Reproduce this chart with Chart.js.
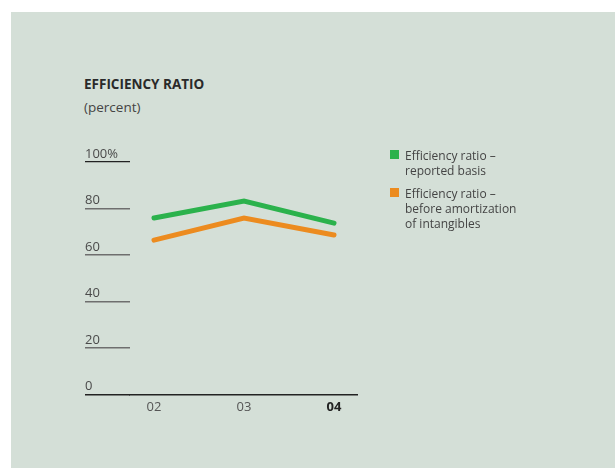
<!DOCTYPE html>
<html lang="en">
<head>
  <meta charset="UTF-8" />
  <title>Efficiency Ratio</title>
  <script src="https://cdn.jsdelivr.net/npm/chart.js"></script>
  <style>
    html, body { margin: 0; width: 615px; height: 468px; background: #fff; font-family: "Open Sans", sans-serif; overflow: hidden; }
    #panel { position: absolute; left: 11px; top: 12px; right: 0; bottom: 0; background: #d4dfd7; }
    #chart { position: absolute; left: 0; top: 0; }
    .title { position: absolute; left: 84px; top: 78px; font-size: 13.5px; line-height: 13.5px; font-weight: bold; color: #2a2a2a; }
    .sub { position: absolute; left: 84px; top: 101px; font-size: 13.5px; line-height: 13.5px; color: #444; }
    #legend { position: absolute; left: 390px; top: 148px; font-size: 12px; line-height: 15px; color: #444; }
    .item { position: relative; padding-left: 15px; margin-bottom: 8px; }
    .box { position: absolute; left: 0; top: 2px; width: 9px; height: 9px; }
  </style>
</head>
<body>
<div id="panel"></div>
<div class="title">EFFICIENCY RATIO</div>
<div class="sub">(percent)</div>
<canvas id="chart" width="615" height="468"></canvas>
<div id="legend"></div>

<script>
// values
const years = ['02', '03', '04'];
const reported = [75.9, 83.2, 73.7];
const beforeAmort = [66.4, 75.9, 68.6];
const seriesNames = [
  ['Efficiency ratio –', 'reported basis'],
  ['Efficiency ratio –', 'before amortization', 'of intangibles']
];
const seriesColors = ['#2bb24c', '#ec8b1f'];
const yTicks = [0, 20, 40, 60, 80, 100];

const toPoints = arr => arr.map((v, i) => ({ x: i, y: v }));

const chart = new Chart(document.getElementById('chart'), {
  type: 'line',
  data: {
    datasets: [
      { label: seriesNames[0].join(' '), data: toPoints(reported), borderColor: seriesColors[0] },
      { label: seriesNames[1].join(' '), data: toPoints(beforeAmort), borderColor: seriesColors[1] }
    ]
  },
  options: {
    responsive: false,
    animation: false,
    layout: { padding: { left: 85, right: 258, top: 162, bottom: 48 } },
    elements: {
      line: { borderWidth: 5, borderCapStyle: 'round', borderJoinStyle: 'miter', tension: 0, fill: false },
      point: { radius: 0, hoverRadius: 0 }
    },
    plugins: { legend: { display: false }, tooltip: { enabled: false } },
    scales: {
      x: {
        type: 'linear',
        min: -24 / 90,
        max: 2 + 23 / 90,
        afterBuildTicks: s => { s.ticks = years.map((_, i) => ({ value: i })); },
        grid: { display: false, drawTicks: false },
        border: { display: true, color: '#222', width: 1.5 },
        ticks: {
          padding: 5,
          color: c => c.tick && c.tick.value === 2 ? '#222' : '#555',
          font: c => ({ family: 'Open Sans', size: 13, weight: c.tick && c.tick.value === 2 ? 'bold' : 'normal' }),
          callback: v => years[v]
        }
      },
      y: {
        min: 0,
        max: 100,
        afterBuildTicks: s => { s.ticks = yTicks.map(v => ({ value: v })); },
        afterFit: s => { s.width = 45; },
        border: { display: false },
        grid: {
          drawOnChartArea: false,
          drawTicks: true,
          tickLength: 45,
          lineWidth: c => (c.tick && c.tick.value === 100) ? 1.2 : 1.5,
          color: c => (c.tick && (c.tick.value === 100 || c.tick.value === 0)) ? '#222' : '#6e6e6e'
        },
        ticks: {
          crossAlign: 'far',
          labelOffset: -8,
          color: '#4a4a4a',
          font: { family: 'Open Sans', size: 13 },
          callback: v => v === 100 ? '100%' : String(v)
        }
      }
    }
  }
});

// legend with wrapped lines, built from the series names
const legend = document.getElementById('legend');
seriesNames.forEach((lines, i) => {
  const item = document.createElement('div');
  item.className = 'item';
  item.innerHTML = `<span class="box" style="background:${seriesColors[i]}"></span>${lines.join('<br/>')}`;
  legend.appendChild(item);
});
</script>
</body>
</html>
